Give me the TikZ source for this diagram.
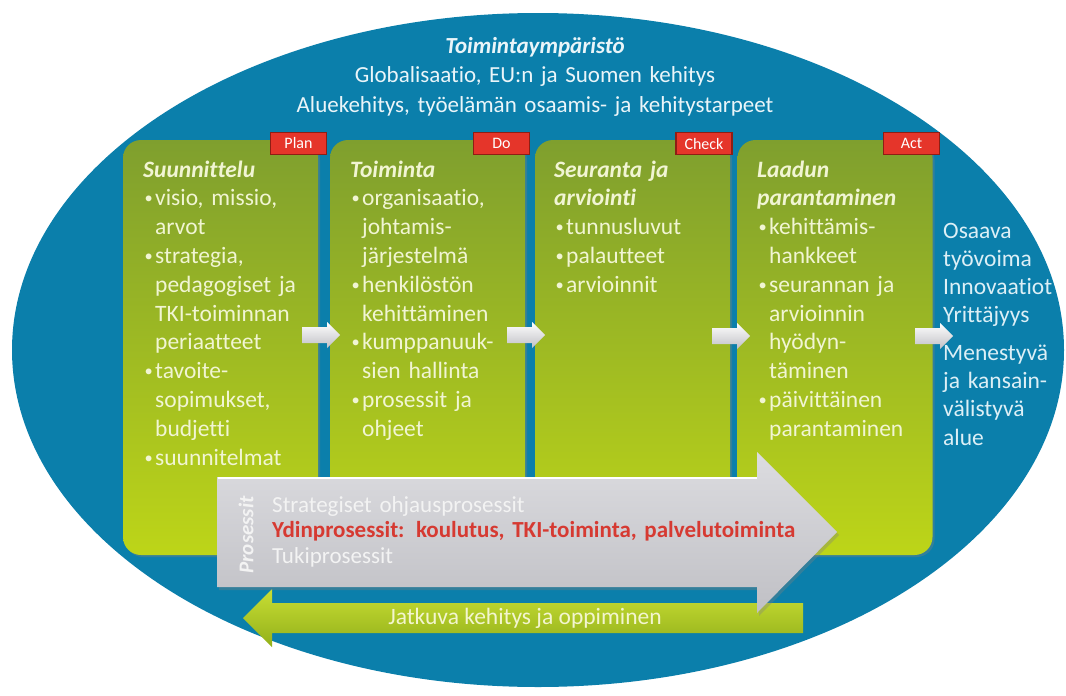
\documentclass[tikz,border=0pt]{standalone}
\usepackage{fontspec}
\setmainfont{Carlito}[Ligatures=CommonOff]
\usetikzlibrary{shadows}
\definecolor{ellblue}{HTML}{0B7FAB}
\definecolor{pantop}{HTML}{7F9F2E}
\definecolor{panbot}{HTML}{BDD518}
\definecolor{pantext}{HTML}{F1F5D3}
\definecolor{labred}{HTML}{E5352A}
\definecolor{labedge}{HTML}{8E1E14}
\definecolor{greyA}{HTML}{DCDCE0}
\definecolor{greyB}{HTML}{C0C0C5}
\definecolor{greytext}{HTML}{F3F3F3}
\definecolor{ydinred}{HTML}{D63A32}
\definecolor{outtext}{HTML}{DCEFF6}
\definecolor{titletext}{HTML}{EAF5F9}
\definecolor{jattext}{HTML}{F3F5CF}
\definecolor{greentop}{HTML}{C8DE34}
\definecolor{greenbot}{HTML}{93B01A}
\newcommand\pbul{\makebox[12pt][l]{\hspace{1.5pt}\raisebox{0.08em}{\scalebox{0.7}{\textbullet}}}}
\newcommand\pind{\hspace*{12pt}}
\tikzset{
  panel/.style={rectangle, rounded corners=18pt, top color=pantop, bottom color=panbot,
    minimum width=195pt, minimum height=415pt, inner sep=0pt,
    drop shadow={shadow xshift=2pt, shadow yshift=-2pt, opacity=0.35}},
  pdca/.style={rectangle, fill=labred, draw=labedge, line width=1.2pt,
    minimum width=56pt, minimum height=22pt, inner sep=0pt, text=white,
    font=\fontsize{16}{18}\selectfont},
  ptext/.style={anchor=base west, text width=190pt, align=left, inner sep=0pt,
    text=pantext, font=\fontsize{23.5}{28.8}\selectfont},
  smallarrow/.pic={
    \path[top color=white, bottom color=greyB]
      (-19,-8) -- (6,-8) -- (6,-13) -- (19,0) -- (6,13) -- (6,8) -- (-19,8) -- cycle;
  }
}
\begin{document}
\begin{tikzpicture}[x=1pt, y=-1pt]
\useasboundingbox (0,0) rectangle (1066,696);
% environment ellipse
\fill[ellblue] (538,350) ellipse [x radius=526pt, y radius=337pt];

% title
\node[anchor=base, text width=640pt, align=center, inner sep=0pt, text=titletext,
      font=\fontsize{23}{29.5}\selectfont] (title) at (535,53)
  {\textbf{\textit{Toimintaympäristö}}\\
   Globalisaatio, EU:n ja Suomen kehitys\\
   Aluekehitys, työelämän osaamis- ja kehitystarpeet};

% PDCA panels
\node[panel] (p1) at (220.5,347.5) {};
\node[panel] (p2) at (427.5,347.5) {};
\node[panel] (p3) at (632.5,347.5) {};
\node[panel] (p4) at (835,347.5) {};

% PDCA labels
\node[pdca] (plan)  at (298.5,143.5) {Plan};
\node[pdca] (do)    at (501.5,143.5) {Do};
\node[pdca] (check) at (704,143.5) {Check};
\node[pdca] (act)   at (911.5,143.5) {Act};

% panel texts
\node[ptext] (t1) at (143,177) {\textbf{\textit{Suunnittelu}}\\
  \pbul visio, missio,\\ \pind arvot\\
  \pbul strategia,\\ \pind pedagogiset ja\\ \pind TKI-toiminnan\\ \pind periaatteet\\
  \pbul tavoite-\\ \pind sopimukset,\\ \pind budjetti\\
  \pbul suunnitelmat};
\node[ptext] (t2) at (350,177) {\textbf{\textit{Toiminta}}\\
  \pbul organisaatio,\\ \pind johtamis-\\ \pind järjestelmä\\
  \pbul henkilöstön\\ \pind kehittäminen\\
  \pbul kumppanuuk-\\ \pind sien hallinta\\
  \pbul prosessit ja\\ \pind ohjeet};
\node[ptext] (t3) at (554,177) {\textbf{\textit{Seuranta ja}}\\ \textbf{\textit{arviointi}}\\
  \pbul tunnusluvut\\
  \pbul palautteet\\
  \pbul arvioinnit};
\node[ptext] (t4) at (757,177) {\textbf{\textit{Laadun}}\\ \textbf{\textit{parantaminen}}\\
  \pbul kehittämis-\\ \pind hankkeet\\
  \pbul seurannan ja\\ \pind arvioinnin\\ \pind hyödyn-\\ \pind täminen\\
  \pbul päivittäinen\\ \pind parantaminen};

% small arrows between phases
\pic at (321,335) {smallarrow};
\pic at (526,335) {smallarrow};
\pic at (731,336) {smallarrow};
\pic at (934,336) {smallarrow};

% outcome text
\node[anchor=base west, text width=130pt, align=left, inner sep=0pt, text=outtext,
      font=\fontsize{23.5}{28.3}\selectfont] (out) at (943,238)
  {Osaava\\työvoima\\Innovaatiot\\Yrittäjyys\\[9pt]Menestyvä\\ja kansain-\\välistyvä\\alue};

% continuous development arrow
\path[top color=greentop, bottom color=greenbot]
  (272,603) -- (803,603) -- (803,633) -- (272,633) -- (272,647) -- (243,618) -- (272,589) -- cycle;
\node[text=jattext, inner sep=0pt, font=\fontsize{23.5}{28}\selectfont] (jatkuva) at (525,618)
  {Jatkuva kehitys ja oppiminen};

% process arrow
\path[top color=greyA, bottom color=greyB,
      drop shadow={shadow xshift=2pt, shadow yshift=-3pt, opacity=0.35}]
  (217,477) -- (757,477) -- (757,452) -- (837,532) -- (757,613) -- (757,587) -- (217,587) -- cycle;
\draw[white, line width=1.5pt] (218,478) -- (757,478);
\node[rotate=90, text=greytext, inner sep=0pt, font=\fontsize{21}{24}\selectfont\bfseries\itshape]
  (prosessit) at (246,535) {Prosessit};
\node[anchor=base west, text width=600pt, align=left, inner sep=0pt, text=greytext,
      font=\fontsize{23}{25.5}\selectfont] (proc) at (272,512)
  {Strategiset ohjausprosessit\\
   \textcolor{ydinred}{\textbf{Ydinprosessit: koulutus, TKI-toiminta, palvelutoiminta}}\\
   Tukiprosessit};
\end{tikzpicture}
\end{document}
